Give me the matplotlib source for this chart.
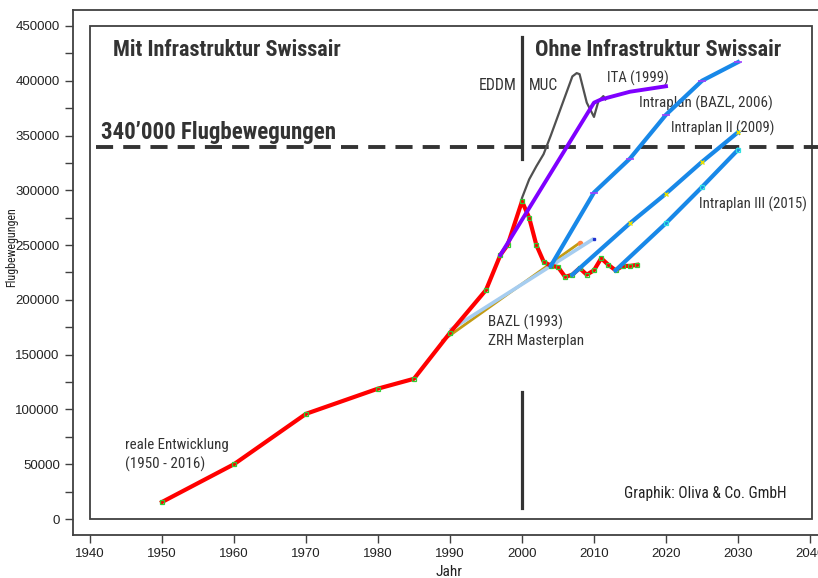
import matplotlib
matplotlib.use("Agg")
import matplotlib.pyplot as plt
from matplotlib.patches import Rectangle
from matplotlib import font_manager as fm

# ---------------- data ----------------
real_years = [1950, 1960, 1970, 1980, 1985, 1990, 1995, 1997, 1998, 2000, 2001, 2002,
              2003, 2004, 2005, 2006, 2007, 2008, 2009, 2010, 2011, 2012, 2013, 2014, 2015, 2016]
real_vals = [15500, 50000, 96000, 119000, 128000, 170000, 209000, 241000, 250000, 290000, 275000, 250000,
             235000, 231000, 230000, 221000, 223000, 229000, 223000, 227000, 238000, 232000, 227000, 231000, 231000, 232000]

muc_years = [2000, 2001, 2002, 2003, 2004, 2005, 2006, 2007, 2007.6, 2008, 2009, 2010, 2010.6, 2011.3, 2011.6]
muc_vals = [293000, 310000, 322000, 333000, 350000, 368000, 386000, 404000, 407000, 406000, 380000, 367000, 381000, 386000, 383000]

ita_years = [1997, 2010, 2011, 2015, 2020]
ita_vals = [241000, 380000, 383000, 390000, 395000]

ip06_years = [2004, 2010, 2015, 2020, 2025, 2030]
ip06_vals = [231000, 298000, 329000, 369000, 400000, 417000]

ip09_years = [2007, 2015, 2020, 2025, 2030]
ip09_vals = [223000, 270000, 297000, 326000, 353000]

ip15_years = [2013, 2020, 2025, 2030]
ip15_vals = [227000, 270000, 303000, 337000]

bazl93_years = [1990, 2010]
bazl93_vals = [172500, 256000]

master_years = [1989, 2008]
master_vals = [163000, 252000]

limit_value = 340000

x_ticks = list(range(1940, 2041, 10))
y_ticks = list(range(0, 450001, 50000))


# ---------------- font selection ----------------
def _weight(f):
    w = f.weight
    if isinstance(w, (int, float)):
        return int(w)
    return {'bold': 700, 'normal': 400, 'regular': 400, 'book': 400, 'medium': 500,
            'semibold': 600, 'demibold': 600, 'heavy': 800, 'black': 900,
            'extra bold': 800, 'light': 300}.get(str(w).lower(), 400)


def find_condensed(target_weight):
    prio = ['liberation sans narrow', 'roboto condensed', 'open sans condensed',
            'noto sans', 'dejavu sans', 'open sans', 'roboto', 'lato', 'inter']
    best = None
    for f in fm.fontManager.ttflist:
        nm = f.name.lower()
        fn = f.fname.lower()
        st = str(f.stretch).lower()
        cond = ('narrow' in nm or 'condensed' in nm or 'narrow' in fn or 'condensed' in fn
                or st in ('condensed', 'semi-condensed', 'extra-condensed', 'ultra-condensed'))
        if not cond:
            continue
        if 'italic' in str(f.style).lower() or 'oblique' in str(f.style).lower() or 'italic' in fn:
            continue
        if 'mono' in nm or ('serif' in nm and 'sans' not in nm):
            continue
        rank = next((i for i, p in enumerate(prio) if nm.startswith(p)), len(prio))
        extra = 1 if ('semi' in fn or 'semi' in st) else 0
        score = (rank, extra, abs(_weight(f) - target_weight))
        if best is None or score < best[0]:
            best = (score, f.fname)
    return best[1] if best else None


cond_bold = find_condensed(800)
cond_reg = find_condensed(400)


def fp(kind, size):
    if kind == 'bold':
        if cond_bold:
            return fm.FontProperties(fname=cond_bold, size=size)
        return fm.FontProperties(family=['Liberation Sans', 'DejaVu Sans'], weight='bold', size=size)
    if cond_reg:
        return fm.FontProperties(fname=cond_reg, size=size)
    return fm.FontProperties(family=['Liberation Sans', 'DejaVu Sans'], size=size)


# ---------------- figure ----------------
W, H = 818, 578
fig = plt.figure(figsize=(W / 100, H / 100), dpi=100)
ax = fig.add_axes([73 / W, 43 / H, (822 - 73) / W, 525 / H])
ax.set_xlim(1937.64, 2041.67)
ax.set_ylim(-14600, 464600)

REG = ['Liberation Sans', 'DejaVu Sans']
TXT = '#333333'
FRAME = '#404040'

for s in ax.spines.values():
    s.set_color(FRAME)
    s.set_linewidth(1.3)

ax.set_xticks(x_ticks)
ax.set_yticks(y_ticks)
ax.set_yticks(list(range(25000, 450000, 50000)), minor=True)
ax.tick_params(axis='both', which='both', direction='out', length=6, width=1.0, color=FRAME)
ax.tick_params(axis='both', labelsize=9.5, labelcolor='#222222')
for lab in ax.get_xticklabels() + ax.get_yticklabels():
    lab.set_family(REG)

# inner frame
ax.add_patch(Rectangle((1940, 0), 100.3, 450000, fill=False, edgecolor=FRAME, lw=1.3, zorder=1))

# dashed 340'000 line
ax.plot([1940.8, 2041.67], [limit_value, limit_value], color='#333333', lw=2.8,
        dashes=(4.4, 2.6), zorder=2)

# vertical separators at 2000
ax.plot([2000, 2000], [328500, 440000], color='#333333', lw=2.3, zorder=2)
ax.plot([2000, 2000], [10000, 116000], color='#333333', lw=2.3, zorder=2)

# series
ax.plot(master_years, master_vals, color='#c39b12', lw=2.0, zorder=3)
ax.plot(master_years[-1:], master_vals[-1:], 'o', color='#ff7f40', ms=3, zorder=3)
ax.plot(bazl93_years, bazl93_vals, color='#a6cdf0', lw=2.6, zorder=3, solid_capstyle='butt')
ax.plot(bazl93_years[-1:], bazl93_vals[-1:], 's', color='#2030d0', ms=2, zorder=3)

ax.plot(real_years, real_vals, color='#ff0000', lw=3.0, zorder=4)
ax.plot(real_years, real_vals, 's', mfc='none', mec='#33cc33', ms=3.2, mew=0.9, zorder=4)

ax.plot(muc_years, muc_vals, color='#505050', lw=1.6, zorder=5)
ax.plot(ita_years, ita_vals, color='#7f00ff', lw=2.8, zorder=5)

blue = '#1888e8'
ax.plot(ip06_years, ip06_vals, color=blue, lw=3.0, zorder=6)
ax.plot(ip06_years[1:], ip06_vals[1:], '_', color='#a040ff', ms=6, mew=1.2, zorder=6)
ax.plot(ip09_years, ip09_vals, color=blue, lw=3.0, zorder=6)
ax.plot(ip09_years[1:], ip09_vals[1:], 'x', color='#e8e000', ms=3, mew=1, zorder=6)
ax.plot(ip15_years, ip15_vals, color=blue, lw=3.0, zorder=6)
ax.plot(ip15_years[1:], ip15_vals[1:], 's', mfc='none', mec='#30e0e0', ms=3.5, mew=0.9, zorder=6)

# texts: (x, y, string, kind, start size, target width in px)
fitted = []


def put(x, y, s, kind, size, width, color=TXT, target=ax, **kw):
    if target is ax:
        t = ax.text(x, y, s, fontproperties=fp(kind, size), color=color, ha='left', va='center', **kw)
    else:
        t = fig.text(x, y, s, fontproperties=fp(kind, size), color=color, ha='center', va='center', **kw)
    fitted.append((t, width))
    return t


put(1943.2, 428000, 'Mit Infrastruktur Swissair', 'bold', 18, 229)
put(2001.8, 428000, 'Ohne Infrastruktur Swissair', 'bold', 18, 245)
put(1941.5, 353000, '340\u2019000 Flugbewegungen', 'bold', 18, 235)

put(1994.0, 396000, 'EDDM', 'reg', 11.5, 38)
put(2001.0, 396000, 'MUC', 'reg', 11.5, 29)
put(2011.8, 402500, 'ITA (1999)', 'reg', 11.5, 61)
put(2016.3, 379700, 'Intraplan (BAZL, 2006)', 'reg', 11.5, 134)
put(2020.7, 356900, 'Intraplan II (2009)', 'reg', 11.5, 103)
put(2024.6, 287500, 'Intraplan III (2015)', 'reg', 11.5, 109)
put(1995.3, 179800, 'BAZL (1993)', 'reg', 11.5, 75)
put(1995.3, 162500, 'ZRH Masterplan', 'reg', 11.5, 96)
put(1944.9, 67500, 'reale Entwicklung', 'reg', 11.5, 104)
put(1944.9, 50200, '(1950 - 2016)', 'reg', 11.5, 80)
put(2014.2, 23700, 'Graphik: Oliva & Co. GmbH', 'reg', 10, 163, color='#222222')

put(12 / W, 1 - 247 / H, 'Flugbewegungen', 'reg', 9.5, 80, color='#222222', target=fig, rotation=90)
put(449 / W, 1 - 572 / H, 'Jahr', 'reg', 9.5, 27, color='#222222', target=fig)

# scale every text so that its rendered width matches the reference
renderer = fig.canvas.get_renderer()
for t, width in fitted:
    for _ in range(2):
        bb = t.get_window_extent(renderer)
        cur = bb.height if abs(t.get_rotation() - 90) < 1 else bb.width
        if cur > 0:
            t.set_fontsize(t.get_fontsize() * width / cur)

fig.savefig('out.png', dpi=100)
